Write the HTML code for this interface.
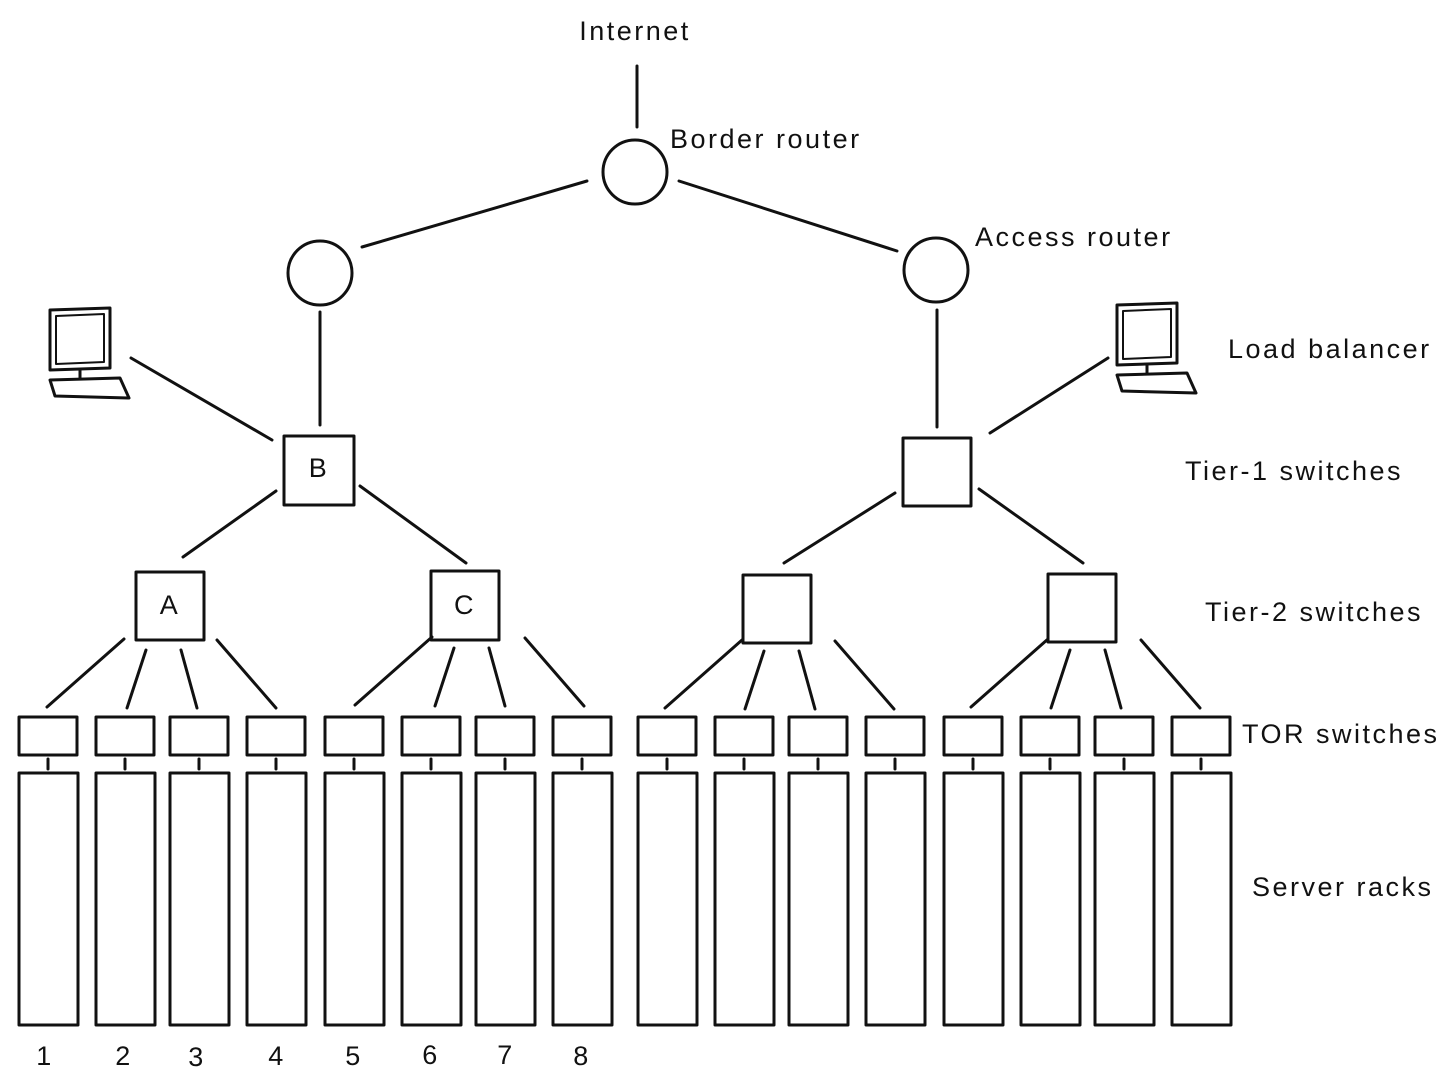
<!DOCTYPE html>
<html><head><meta charset="utf-8"><style>
html,body{margin:0;padding:0;background:#fff}
svg{display:block}
text{font-family:"Comic Sans MS","Liberation Sans",sans-serif;font-size:27px;fill:#111;letter-spacing:2.5px}
</style></head><body>
<svg width="1440" height="1080" viewBox="0 0 1440 1080" xmlns="http://www.w3.org/2000/svg">
<g stroke="#111" stroke-width="3" fill="none" stroke-linecap="round" stroke-linejoin="round">
<line x1="637" y1="66" x2="637" y2="127"/>
<circle cx="635" cy="172" r="32"/>
<line x1="587" y1="181" x2="362" y2="247"/>
<line x1="679" y1="181" x2="897" y2="251"/>
<circle cx="320" cy="273" r="32"/>
<circle cx="936" cy="270" r="32"/>
<line x1="320" y1="312" x2="320" y2="425"/>
<line x1="937" y1="310" x2="937" y2="427"/>
<rect x="284" y="436" width="70" height="69"/>
<rect x="903" y="438" width="68" height="68"/>
<line x1="131" y1="358" x2="272" y2="440"/>
<line x1="1108" y1="358" x2="990" y2="433"/>
<g id="pc">
<path d="M50 310 L110 308 L110 368 L50 370 Z"/>
<path d="M56 316 L104 314 L104 362 L56 364 Z" stroke-width="2"/>
<line x1="80" y1="370" x2="80" y2="378"/>
<path d="M50 380 L120 378 L129 398 L55 396 Z"/>
</g>
<use href="#pc" transform="translate(1067 -5)"/>
<line x1="276" y1="491" x2="183" y2="557"/>
<line x1="360" y1="486" x2="466" y2="563"/>
<line x1="895" y1="493" x2="784" y2="563"/>
<line x1="979" y1="489" x2="1083" y2="563"/>
<rect x="136" y="572" width="68" height="68"/>
<rect x="431" y="571" width="68" height="69"/>
<rect x="743" y="575" width="68" height="68"/>
<rect x="1048" y="574" width="68" height="68"/>
<g id="fan">
<line x1="124" y1="639" x2="47" y2="707"/>
<line x1="146" y1="650" x2="127" y2="708"/>
<line x1="181" y1="650" x2="197" y2="708"/>
<line x1="217" y1="640" x2="276" y2="708"/>
</g>
<use href="#fan" transform="translate(308 -2)"/>
<use href="#fan" transform="translate(618 1)"/>
<use href="#fan" transform="translate(924 0)"/>
<g id="rk">
<rect x="19" y="717" width="58" height="38"/>
<line x1="48" y1="759" x2="48" y2="769"/>
<rect x="19" y="773" width="59" height="252"/>
</g>
<use href="#rk" x="77"/><use href="#rk" x="151"/><use href="#rk" x="228"/>
<use href="#rk" x="306"/><use href="#rk" x="383"/><use href="#rk" x="457"/><use href="#rk" x="534"/>
<use href="#rk" x="619"/><use href="#rk" x="696"/><use href="#rk" x="770"/><use href="#rk" x="847"/>
<use href="#rk" x="925"/><use href="#rk" x="1002"/><use href="#rk" x="1076"/><use href="#rk" x="1153"/>
</g>
<text x="635" y="40" text-anchor="middle">Internet</text>
<text x="670" y="148">Border router</text>
<text x="975" y="246">Access router</text>
<text x="1228" y="358">Load balancer</text>
<text x="1185" y="480">Tier-1 switches</text>
<text x="1205" y="621">Tier-2 switches</text>
<text x="1242" y="743">TOR switches</text>
<text x="1252" y="896">Server racks</text>
<text x="319" y="477" text-anchor="middle">B</text>
<text x="170" y="614" text-anchor="middle">A</text>
<text x="465" y="614" text-anchor="middle">C</text>
<g text-anchor="middle">
<text x="45" y="1065">1</text><text x="124" y="1065">2</text><text x="197" y="1066">3</text><text x="277" y="1065">4</text>
<text x="354" y="1065">5</text><text x="431" y="1064">6</text><text x="506" y="1064">7</text><text x="582" y="1065">8</text>
</g>
</svg>
</body></html>
